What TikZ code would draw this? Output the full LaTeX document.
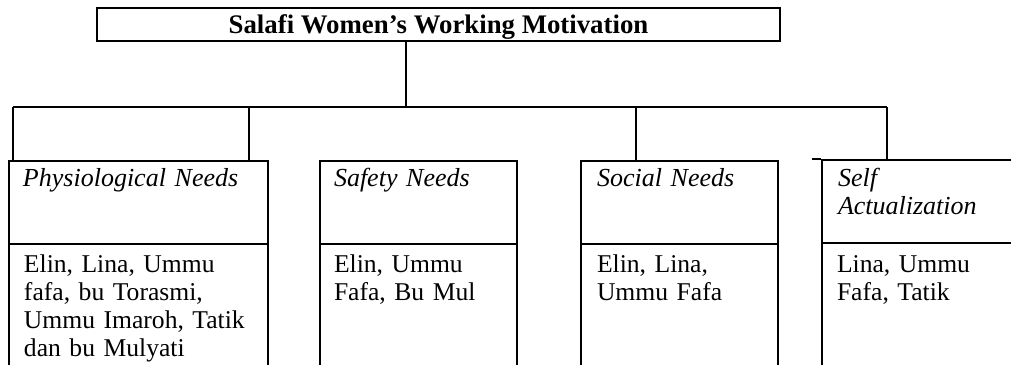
\documentclass[tikz,border=0pt]{standalone}
\usepackage{fontspec}
\setmainfont{Liberation Serif}
\begin{document}
\begin{tikzpicture}[x=0.5pt,y=-0.5pt,line width=1pt,
  cell/.style={draw,rectangle,inner sep=0pt},
  lbl/.style={inner sep=0pt,anchor=base west,text width=120pt,align=left,font=\fontsize{12.8}{14}\selectfont},
  hdr/.style={lbl,font=\fontsize{13}{14}\selectfont\itshape}]
\useasboundingbox (0,0) rectangle (1011,364);
% title
\node[cell,minimum width=341.5pt,minimum height=16.5pt,text height=9pt,text depth=0.5pt,font=\fontsize{13.4}{14}\selectfont\bfseries] (title) at (438.5,24.5) {Salafi Women’s Working Motivation};
% boxes
\node[cell,minimum width=129.5pt,minimum height=109.5pt] (phys) at (138.5,270.5) {};
\node[cell,minimum width=98.5pt,minimum height=109.5pt] (safe) at (418.5,270.5) {};
\node[cell,minimum width=98.5pt,minimum height=109.5pt] (soc) at (679.5,270.5) {};
\node[cell,minimum width=109pt,minimum height=110pt] (self) at (931,270) {};
% dividers
\draw ([yshift=-42pt]phys.north west) -- ([yshift=-42pt]phys.north east);
\draw ([yshift=-42pt]safe.north west) -- ([yshift=-42pt]safe.north east);
\draw ([yshift=-42pt]soc.north west) -- ([yshift=-42pt]soc.north east);
\draw ([yshift=-42pt]self.north west) -- ([yshift=-42pt]self.north east);
\draw ([xshift=-4.5pt]self.north west) -- (self.north west);
% connectors
\coordinate (stem) at (406,107);
\coordinate (j1) at (13,107);
\coordinate (j2) at (249,107);
\coordinate (j3) at (636,107);
\coordinate (j4) at (887,107);
\draw (stem |- title.south) -- (stem);
\draw (j1) -- (j4);
\draw (j1) -- (j1 |- phys.north);
\draw (j2) -- (j2 |- phys.north);
\draw (j3) -- (j3 |- soc.north);
\draw (j4) -- (j4 |- self.north);
% texts
\node[hdr] (physh) at (22,186) {Physiological Needs};
\node[hdr] (safeh) at (333,186) {Safety Needs};
\node[hdr] (soch) at (596,186) {Social Needs};
\node[hdr] (selfh) at (837,186) {Self\\Actualization};
\node[lbl] (physb) at (23,272) {Elin, Lina, Ummu\\fafa, bu Torasmi,\\Ummu Imaroh, Tatik\\dan bu Mulyati};
\node[lbl] (safeb) at (333,272) {Elin, Ummu\\Fafa, Bu Mul};
\node[lbl] (socb) at (596,272) {Elin, Lina,\\Ummu Fafa};
\node[lbl] (selfb) at (836,272) {Lina, Ummu\\Fafa, Tatik};
\end{tikzpicture}
\end{document}
